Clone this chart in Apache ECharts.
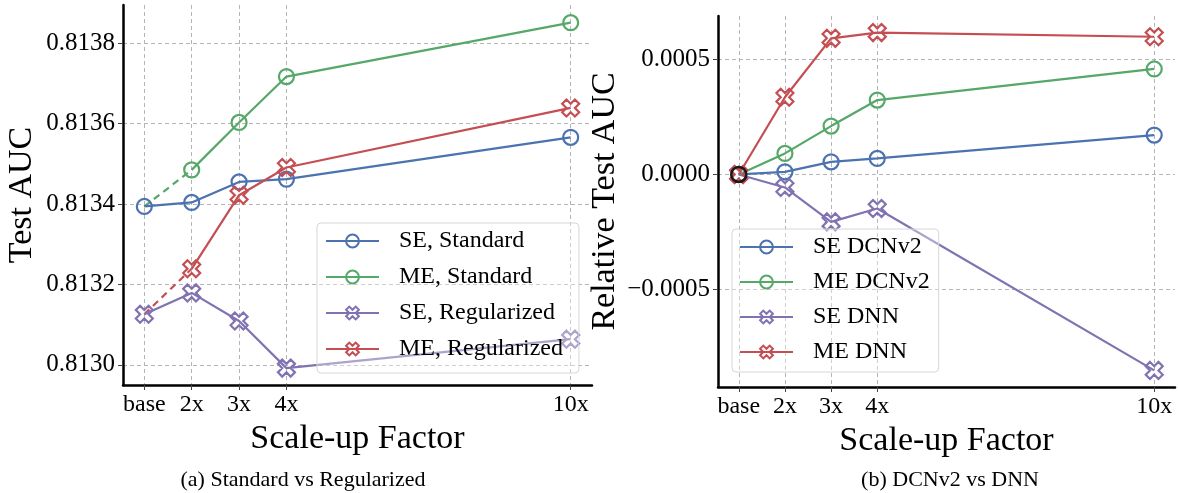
<!DOCTYPE html>
<html>
<head>
<meta charset="utf-8">
<script src="https://cdn.jsdelivr.net/npm/echarts@6/dist/echarts.min.js"></script>
<style>html,body{margin:0;padding:0;background:#fff;}#c{width:1178px;height:493px;}</style>
</head>
<body>
<div id="c"></div>
<script>
// ---- data ----
const xs = [1, 2, 3, 4, 10];
const xLabels = ['base', '2x', '3x', '4x', '10x'];

// (a) Standard vs Regularized
const seStandard    = [0.813394, 0.813404, 0.813455, 0.813462, 0.813566];
const meStandard    = [null,     0.813485, 0.813603, 0.813717, 0.813851];
const seRegularized = [0.813126, 0.813179, 0.813109, 0.812992, 0.813064];
const meRegularized = [null,     0.813239, 0.813422, 0.813491, 0.813639];
const leftYTicks = [0.8130, 0.8132, 0.8134, 0.8136, 0.8138];

// (b) DCNv2 vs DNN (relative to base)
const seDCNv2 = [0, 0.0000113, 0.0000548, 0.0000696, 0.000171];
const meDCNv2 = [0, 0.0000913, 0.000210, 0.000323, 0.000458];
const seDNN   = [0, -0.0000565, -0.000206, -0.000148, -0.000851];
const meDNN   = [0, 0.000335, 0.000591, 0.000616, 0.000598];
const rightYTicks = [-0.0005, 0, 0.0005];

// ---- style ----
const FONT = 'Liberation Serif';
const C = {blue: '#4C72B0', green: '#55A868', purple: '#8172B2', red: '#C44E52'};
const XPATH = 'path://M1,0L2,1L3,0L4,1L3,2L4,3L3,4L2,3L1,4L0,3L1,2L0,1Z';

function pts(arr) { return xs.map((x, i) => [x, arr[i]]).filter(p => p[1] !== null); }

function lineSeries(name, arr, color, marker, xi, yi) {
  const isX = marker === 'x';
  return {
    name, type: 'line', xAxisIndex: xi, yAxisIndex: yi,
    data: pts(arr),
    symbol: isX ? XPATH : 'circle',
    symbolSize: isX ? 17 : 15,
    showSymbol: true,
    lineStyle: {color, width: 2.2},
    itemStyle: {color: 'rgba(255,255,255,0)', borderColor: color, borderWidth: 2.2},
    emphasis: {disabled: true},
    z: 3
  };
}
function dashSeries(color, from, to, xi, yi) {
  return {
    type: 'line', xAxisIndex: xi, yAxisIndex: yi,
    data: [[xs[0], from[0]], [xs[1], to[1]]],
    symbol: 'none',
    lineStyle: {color, width: 2.2, type: [7, 5]},
    emphasis: {disabled: true},
    z: 2
  };
}

function xAxisDef(gi) {
  return {
    type: 'value', gridIndex: gi, min: 0.55, max: 10.45,
    name: 'Scale-up Factor', nameLocation: 'middle', nameGap: 36,
    nameTextStyle: {fontFamily: FONT, fontSize: 34, color: '#000'},
    axisLine: {show: true, onZero: false, lineStyle: {color: '#000', width: 2.5}},
    axisTick: {show: true, length: 5, customValues: xs, lineStyle: {color: '#444', width: 1}},
    axisLabel: {customValues: xs, margin: 8, fontFamily: FONT, fontSize: 24, color: '#000',
      formatter: v => { const i = xs.indexOf(v); return i >= 0 ? xLabels[i] : ''; }},
    splitLine: {show: true, lineStyle: {color: '#b5b5b5', width: 1, type: [4, 3]}}
  };
}
function yAxisDef(gi, min, max, ticks, name, gap, fmt) {
  return {
    type: 'value', gridIndex: gi, min, max,
    name, nameLocation: 'middle', nameGap: gap,
    nameTextStyle: {fontFamily: FONT, fontSize: 34, color: '#000'},
    axisLine: {show: true, lineStyle: {color: '#000', width: 2.5}},
    axisTick: {show: true, length: 5, customValues: ticks, lineStyle: {color: '#444', width: 1}},
    axisLabel: {customValues: ticks, margin: 8, fontFamily: FONT, fontSize: 25, color: '#000', formatter: fmt},
    splitLine: {show: true, lineStyle: {color: '#b5b5b5', width: 1, type: [4, 3]}}
  };
}

const legendCommon = {
  orient: 'vertical', itemWidth: 53, itemHeight: 16, itemGap: 12,
  backgroundColor: 'rgba(255,255,255,0.35)', borderColor: '#d6d6d6', borderWidth: 1, borderRadius: 4,
  textStyle: {fontFamily: FONT, fontSize: 24, color: '#000', lineHeight: 24, padding: [0, 0, 0, 15]},
  z: 10
};

const option = {
  animation: false,
  backgroundColor: '#fff',
  title: [
    {text: '(a) Standard vs Regularized', left: 298, top: 464, textAlign: 'center',
     textStyle: {fontFamily: FONT, fontSize: 22, fontWeight: 'normal', color: '#000'}},
    {text: '(b) DCNv2 vs DNN', left: 945, top: 464, textAlign: 'center',
     textStyle: {fontFamily: FONT, fontSize: 22, fontWeight: 'normal', color: '#000'}}
  ],
  grid: [
    {left: 123, top: 5, width: 469, height: 380},
    {left: 718, top: 16, width: 457, height: 371}
  ],
  xAxis: [xAxisDef(0), xAxisDef(1)],
  yAxis: [
    yAxisDef(0, 0.81295, 0.813895, leftYTicks, 'Test AUC', 84, v => v.toFixed(4)),
    yAxisDef(1, -0.000923, 0.000688, rightYTicks, 'Relative Test AUC', 96,
      v => Math.abs(v) < 1e-12 ? '0.0000' : (v < 0 ? '\u2212' + Math.abs(v).toFixed(4) : v.toFixed(4)))
  ],
  legend: [
    Object.assign({}, legendCommon, {
      left: 317, top: 223, padding: [6, 16, 12, 8],
      data: ['SE, Standard', 'ME, Standard', 'SE, Regularized', 'ME, Regularized']
    }),
    Object.assign({}, legendCommon, {
      left: 732, top: 229, padding: [6, 9, 8, 7], itemGap: 11,
      data: ['SE DCNv2', 'ME DCNv2', 'SE DNN', 'ME DNN']
    })
  ],
  series: [
    dashSeries(C.green, seStandard, meStandard, 0, 0),
    dashSeries(C.red, seRegularized, meRegularized, 0, 0),
    lineSeries('SE, Standard', seStandard, C.blue, 'o', 0, 0),
    lineSeries('ME, Standard', meStandard, C.green, 'o', 0, 0),
    lineSeries('SE, Regularized', seRegularized, C.purple, 'x', 0, 0),
    lineSeries('ME, Regularized', meRegularized, C.red, 'x', 0, 0),
    lineSeries('SE DCNv2', seDCNv2, C.blue, 'o', 1, 1),
    lineSeries('ME DCNv2', meDCNv2, C.green, 'o', 1, 1),
    lineSeries('SE DNN', seDNN, C.purple, 'x', 1, 1),
    lineSeries('ME DNN', meDNN, C.red, 'x', 1, 1),
    {
      type: 'scatter', xAxisIndex: 1, yAxisIndex: 1,
      data: [[xs[0], meDNN[0]]],
      symbol: 'circle', symbolSize: 15,
      itemStyle: {color: 'rgba(255,255,255,0)', borderColor: '#000', borderWidth: 2.5},
      emphasis: {disabled: true}, z: 5
    }
  ]
};

const chart = echarts.init(document.getElementById('c'), null, {renderer: 'canvas'});
chart.setOption(option);
</script>
</body>
</html>
